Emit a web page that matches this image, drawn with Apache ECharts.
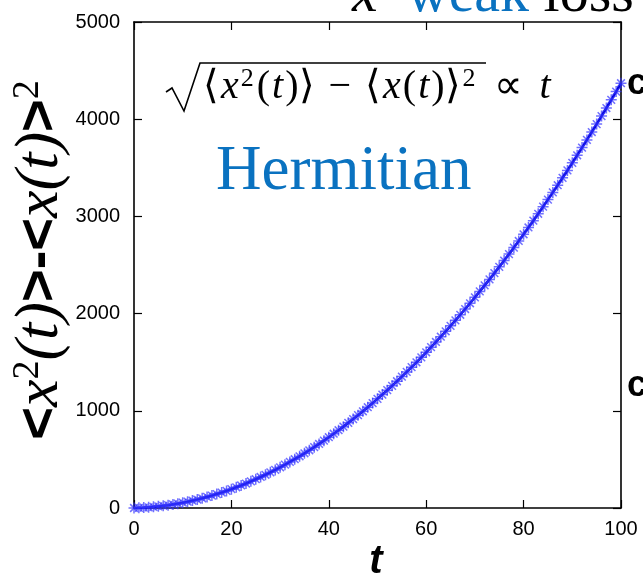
<!DOCTYPE html>
<html>
<head>
<meta charset="utf-8">
<script src="https://cdn.jsdelivr.net/npm/echarts@6/dist/echarts.min.js"></script>
<style>
html,body{margin:0;padding:0;background:#fff;}
#chart{width:643px;height:580px;}
</style>
</head>
<body>
<div id="chart"></div>
<script>
// ---- data ----
const tValues = [0,1,2,3,4,5,6,7,8,9,10,11,12,13,14,15,16,17,18,19,20,21,22,23,24,25,26,27,28,29,30,31,32,33,34,35,36,37,38,39,40,41,42,43,44,45,46,47,48,49,50,51,52,53,54,55,56,57,58,59,60,61,62,63,64,65,66,67,68,69,70,71,72,73,74,75,76,77,78,79,80,81,82,83,84,85,86,87,88,89,90,91,92,93,94,95,96,97,98,99,100];
const varianceValues = [0,2,4,7,12,17,23,29,37,45,55,65,76,87,100,114,128,143,159,176,194,213,232,252,274,296,319,342,367,392,419,446,474,502,532,563,594,626,659,693,728,764,800,837,876,915,955,995,1037,1079,1123,1167,1212,1257,1304,1352,1400,1449,1499,1550,1602,1655,1708,1762,1818,1874,1931,1988,2047,2106,2167,2228,2290,2352,2416,2481,2546,2612,2679,2747,2816,2886,2956,3027,3100,3173,3247,3321,3397,3473,3551,3629,3708,3787,3868,3950,4032,4115,4199,4284,4370];
const xTicks = [0,20,40,60,80,100];
const yTicks = [0,1000,2000,3000,4000,5000];

const seriesData = tValues.map((t, i) => [t, varianceValues[i]]);

const chart = echarts.init(document.getElementById('chart'), null, {renderer: 'canvas'});

const tickFont = {fontFamily: 'Liberation Sans, Arial, sans-serif', fontSize: 20, color: '#000'};
const axisLine = {show: true, onZero: false, lineStyle: {color: '#000', width: 1.6}};
const tickStyle = {show: true, inside: true, length: 8, lineStyle: {color: '#000', width: 1.2}};

const blue = '#0a72c0';

chart.setOption({
  animation: false,
  backgroundColor: '#fff',
  grid: {left: 134, right: 22, top: 22, bottom: 72, containLabel: false},
  xAxis: [
    {type: 'value', min: 0, max: 100, interval: 20, position: 'bottom',
     axisLine: axisLine, axisTick: tickStyle, splitLine: {show: false},
     axisLabel: Object.assign({margin: 11, formatter: v => String(v)}, tickFont)},
    {type: 'value', min: 0, max: 100, interval: 20, position: 'top',
     axisLine: axisLine, axisTick: tickStyle, splitLine: {show: false},
     axisLabel: {show: false}}
  ],
  yAxis: [
    {type: 'value', min: 0, max: 5000, interval: 1000, position: 'left',
     axisLine: axisLine, axisTick: tickStyle, splitLine: {show: false},
     axisLabel: Object.assign({margin: 14, formatter: v => String(v)}, tickFont)},
    {type: 'value', min: 0, max: 5000, interval: 1000, position: 'right',
     axisLine: axisLine, axisTick: tickStyle, splitLine: {show: false},
     axisLabel: {show: false}}
  ],
  series: [{
    type: 'line',
    data: seriesData,
    xAxisIndex: 0, yAxisIndex: 0,
    showAllSymbol: true,
    symbol: 'path://M0,5L10,5M5,0L5,10M1.5,1.5L8.5,8.5M8.5,1.5L1.5,8.5',
    symbolSize: 11,
    itemStyle: {color: 'rgba(0,0,0,0)', borderColor: 'rgba(50,50,255,0.7)', borderWidth: 1.5},
    lineStyle: {color: '#0000d8', width: 2.6},
    clip: false,
    z: 3
  }],
  graphic: [
    // top cut-off title
    {type: 'text', left: 352, top: -33, z: 10,
     style: {text: '{i|x}{w|  weak }{k|loss}',
       rich: {
         i: {fontFamily: 'Liberation Serif', fontStyle: 'italic', fontSize: 58, fill: '#000'},
         w: {fontFamily: 'Liberation Serif', fontSize: 58, fill: blue},
         k: {fontFamily: 'Liberation Serif', fontSize: 58, fill: '#000'}
       }}},
    // formula: radical sign + vinculum
    {type: 'polyline', z: 10,
     shape: {points: [[166, 92], [172, 88], [184, 111], [200, 63], [486, 63]]},
     style: {stroke: '#000', lineWidth: 1.6, fill: null}},
    {type: 'text', left: 203, top: 66, z: 10,
     style: {text: '{n|⟨}{i|x}{s|2}{n|(}{i|t}{n|)⟩}{m|−}{n|⟨}{i|x}{n|(}{i|t}{n|)⟩}{s|2}{p|∝}{i|t}',
       rich: {
         n: {fontFamily: 'Liberation Serif', fontSize: 40, fill: '#000', padding: [0, 1, 0, 1]},
         m: {fontFamily: 'Liberation Serif', fontSize: 40, fill: '#000', padding: [0, 13, 0, 13]},
         p: {fontFamily: 'Liberation Serif', fontSize: 40, fill: '#000', padding: [0, 16, 0, 16]},
         i: {fontFamily: 'Liberation Serif', fontStyle: 'italic', fontSize: 40, fill: '#000', padding: [0, 1, 0, 1]},
         s: {fontFamily: 'Liberation Serif', fontSize: 26, fill: '#000', verticalAlign: 'top', padding: [0, 2, 16, 1]}
       }}},
    // Hermitian label
    {type: 'text', left: 216, top: 141, z: 10,
     style: {text: 'Hermitian', fontFamily: 'Liberation Serif', fontSize: 63, fill: blue}},
    // y axis title
    {type: 'text', x: 41, y: 260, rotation: Math.PI / 2, z: 10,
     style: {text: '{b|<}{x|x}{s|2}{x|(t)}{b|>-<}{x|x(t)}{b|>}{s|2}',
       align: 'center', verticalAlign: 'middle',
       rich: {
         b: {fontFamily: 'Liberation Sans', fontWeight: 'bold', fontSize: 56, fill: '#000'},
         x: {fontFamily: 'Liberation Serif', fontStyle: 'italic', fontSize: 62, fill: '#000'},
         s: {fontFamily: 'Liberation Serif', fontSize: 38, fill: '#000', verticalAlign: 'top', padding: [0, 0, 26, 0]}
       }}},
    // x axis title
    {type: 'text', x: 376, y: 562, z: 10,
     style: {text: 't', align: 'center', verticalAlign: 'middle',
       fontFamily: 'Liberation Sans', fontStyle: 'italic', fontWeight: 'bold', fontSize: 40, fill: '#000'}},
    // cut-off glyphs of neighbouring panel
    {type: 'text', x: 627, y: 84, z: 10,
     style: {text: 'c', verticalAlign: 'middle', fontFamily: 'Liberation Sans', fontWeight: 'bold', fontSize: 36, fill: '#000'}},
    {type: 'text', x: 627, y: 386, z: 10,
     style: {text: 'c', verticalAlign: 'middle', fontFamily: 'Liberation Sans', fontWeight: 'bold', fontSize: 36, fill: '#000'}}
  ]
});
</script>
</body>
</html>
